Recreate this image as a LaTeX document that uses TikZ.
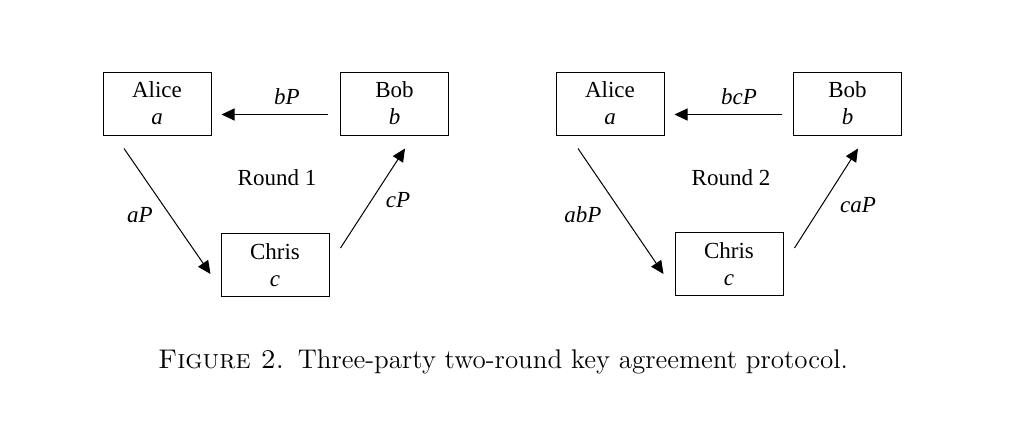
\documentclass[tikz,border=0pt]{standalone}
\usepackage{fontspec}
\newfontfamily\tnr{Liberation Serif}
\usetikzlibrary{arrows.meta}
\begin{document}
\begin{tikzpicture}[x=0.5pt,y=-0.5pt,
  party/.style={draw,line width=0.5pt,minimum width=54pt,minimum height=31.5pt,inner sep=0pt,align=center,font=\tnr\fontsize{11.5}{13.5}\selectfont},
  msg/.style={line width=0.5pt,-{Triangle[length=6.5pt,width=6pt]}},
  lbl/.style={inner sep=0pt,font=\tnr\fontsize{11.5}{13.5}\selectfont\itshape},
  rnd/.style={inner sep=0pt,font=\tnr\fontsize{11.5}{13.5}\selectfont}]
\useasboundingbox (0,0) rectangle (1011,423);
% Round 1
\node[party] (A1) at (157,103.5) {Alice\\\textit{a}};
\node[party] (B1) at (394.5,103.5) {Bob\\\textit{b}};
\node[party] (C1) at (275,265) {Chris\\\textit{c}};
\draw[msg] ([shift={(-12,11)}]B1.west) -- ([shift={(10,11)}]A1.east);
\draw[msg] ([shift={(-33,13)}]A1.south) -- ([shift={(-10,9)}]C1.west);
\draw[msg] ([shift={(11,-17)}]C1.east) -- ([shift={(10.5,13)}]B1.south);
\node[lbl] (l1) at (287,97) {bP};
\node[lbl] (l2) at (140,215) {aP};
\node[lbl] (l3) at (398,200) {cP};
\node[rnd] (r1) at (277,178) {Round 1};
% Round 2
\node[party] (A2) at (610,103.5) {Alice\\\textit{a}};
\node[party] (B2) at (847.5,103.5) {Bob\\\textit{b}};
\node[party] (C2) at (729,264) {Chris\\\textit{c}};
\draw[msg] ([shift={(-11,11)}]B2.west) -- ([shift={(10,11)}]A2.east);
\draw[msg] ([shift={(-32,13)}]A2.south) -- ([shift={(-11,10)}]C2.west);
\draw[msg] ([shift={(11,-16)}]C2.east) -- ([shift={(10.5,13)}]B2.south);
\node[lbl] (m1) at (739,97) {bcP};
\node[lbl] (m2) at (583,215) {abP};
\node[lbl] (m3) at (858,205) {caP};
\node[rnd] (r2) at (731,178) {Round 2};
% caption
\node[inner sep=0pt,anchor=base,font=\fontsize{13.5}{16}\selectfont] (cap) at (503,368) {\textsc{Figure 2.}\enspace Three-party two-round key agreement protocol.};
\end{tikzpicture}
\end{document}
